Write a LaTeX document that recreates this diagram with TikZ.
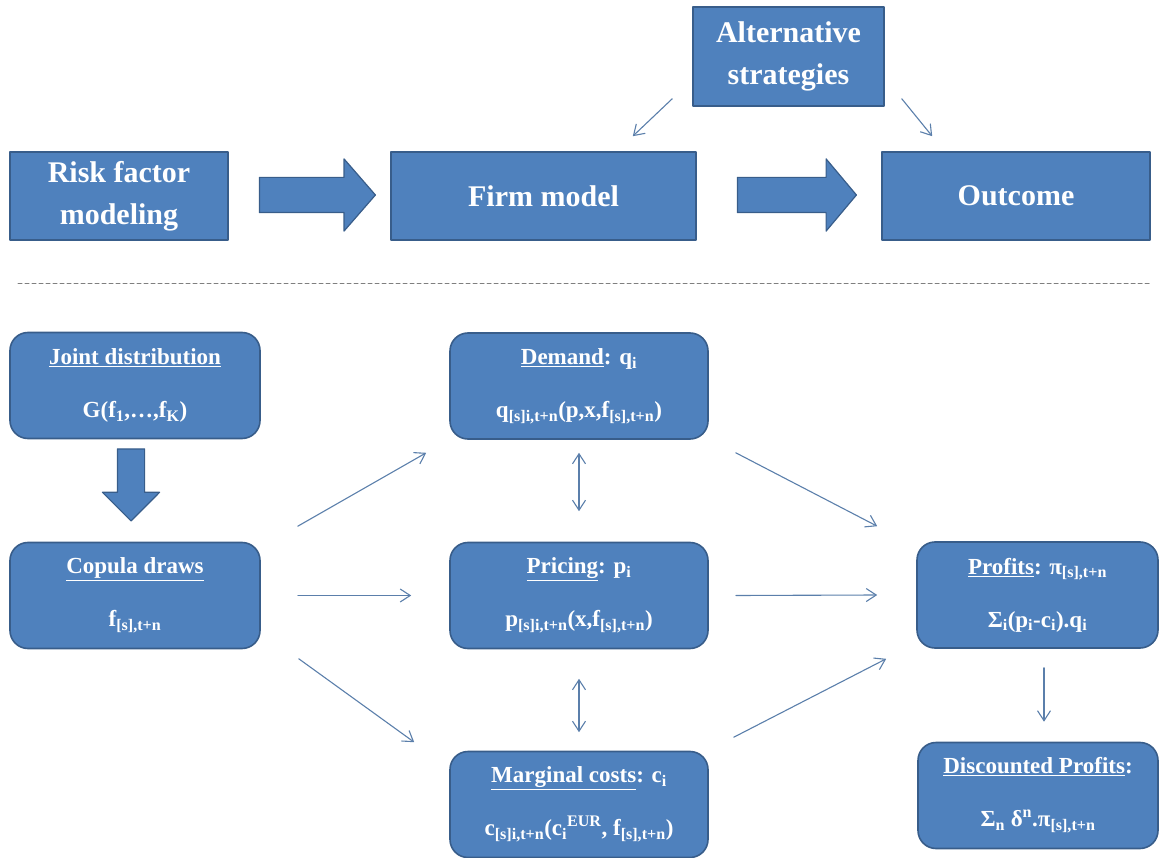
\documentclass[tikz,border=0pt]{standalone}
\usepackage{fontspec}
\setmainfont{Liberation Serif}
\usepackage{tikz}
\usetikzlibrary{arrows.meta,shapes.arrows}
\definecolor{boxblue}{HTML}{4F81BD}
\definecolor{boxedge}{HTML}{385D8A}
\definecolor{linkblue}{HTML}{5B7FAB}
\definecolor{sepgray}{HTML}{7F7F7F}
\tikzset{
  every picture/.style={
    line join=round,
    line cap=round,
  },
  topbox/.style={draw=boxedge, fill=boxblue, line width=1.6pt, text=white,
    align=center, inner sep=0pt, minimum height=88pt,
    font=\bfseries\fontsize{30}{42}\selectfont},
  % the lower boxes: same colours, round corners, two lines far apart
  flowbox/.style={topbox, rounded corners=18pt, minimum height=106pt,
    font=\bfseries\fontsize{23}{53}\selectfont},
  % the node is empty, so the shaft width comes from the inner sep
  fatarrow/.style={single arrow, draw=boxedge, fill=boxblue, line width=1.2pt,
    anchor=tail},
  link/.style={draw=linkblue, line width=1.1pt,
    -{Straight Barb[length=10pt,width=13pt]}},
  twoway/.style={link,
    {Straight Barb[length=10pt,width=13pt]}-{Straight Barb[length=10pt,width=13pt]}},
}
\newcommand{\lo}[1]{\textsubscript{#1}}
\newcommand{\hi}[1]{\textsuperscript{#1}}

\begin{document}
\begin{tikzpicture}[x=1pt,y=-1pt]
\useasboundingbox (0,0) rectangle (1162,858);

% upper part
\node[topbox, minimum width=218pt] (risk) at (119,196) {Risk factor\\modeling};
\node[topbox, minimum width=305pt] (firm) at (543.5,196) {Firm model};
\node[topbox, minimum width=268pt] (outcome) at (1016,196) {Outcome};
\node[topbox, minimum width=191pt, minimum height=99pt] (alt) at (788.5,56.5) {Alternative\\strategies};

\node[fatarrow, minimum height=116pt, inner sep=17pt, single arrow head extend=18.5pt,
  single arrow tip angle=98] (fat1) at ([xshift=30pt,yshift=1pt]risk.east) {};
\node[fatarrow, minimum height=119pt, inner sep=17pt, single arrow head extend=18.5pt,
  single arrow tip angle=100] (fat2) at ([xshift=40pt,yshift=1pt]firm.east) {};

\draw[link] ([xshift=-20pt,yshift=8pt]alt.south west) -- ([xshift=-64pt,yshift=15pt]firm.north east);
\draw[link] ([xshift=17pt,yshift=8pt]alt.south east) -- ([xshift=51pt,yshift=15pt]outcome.north west);

\draw[sepgray, line width=1pt, dash pattern=on 4pt off 3pt] (18,284) -- (1150,284);

% lower part
\node[flowbox, minimum width=250pt] (joint) at (135,385.5)
  {\underline{Joint distribution}\\G(f\lo{1},…,f\lo{K})};
\node[flowbox, minimum width=250pt] (copula) at (135,595.5)
  {\underline{Copula draws}\\f\lo{[s],t+n}};
\node[flowbox, minimum width=258pt] (demand) at (579,386)
  {\underline{Demand}: q\lo{i}\\q\lo{[s]i,t+n}(p,x,f\lo{[s],t+n})};
\node[flowbox, minimum width=258pt] (pricing) at (579,595.5)
  {\underline{Pricing}: p\lo{i}\\p\lo{[s]i,t+n}(x,f\lo{[s],t+n})};
\node[flowbox, minimum width=258pt] (marginal) at (579,804.5)
  {\underline{Marginal costs}: c\lo{i}\\c\lo{[s]i,t+n}(c\lo{i}\hi{EUR}, f\lo{[s],t+n})};
\node[flowbox, minimum width=241pt] (profits) at (1037.5,595)
  {\underline{Profits}: π\lo{[s],t+n}\\Σ\lo{i}(p\lo{i}-c\lo{i}).q\lo{i}};
\node[flowbox, minimum width=240pt] (disc) at (1038,795.5)
  {\underline{Discounted Profits}:\\Σ\lo{n} δ\hi{n}.π\lo{[s],t+n}};

\node[fatarrow, minimum height=72pt, inner sep=13pt, single arrow head extend=15pt,
  single arrow tip angle=90, shape border rotate=270] (fat3) at ([xshift=-4pt,yshift=-9pt]joint.south) {};

\draw[link] ([xshift=37pt,yshift=15.5pt]copula.north east) -- ([xshift=-23pt,yshift=-13pt]demand.south west);
\draw[link] ([xshift=37pt]copula.east) -- ([xshift=-38pt]pricing.west);
\draw[link] ([xshift=38pt,yshift=-9.5pt]copula.south east) -- ([xshift=-35pt,yshift=8.5pt]marginal.north west);
\draw[twoway] ([yshift=-13pt]demand.south) -- ([yshift=30.5pt]pricing.north);
\draw[twoway] ([yshift=-29.5pt]pricing.south) -- ([yshift=18.5pt]marginal.north);
\draw[link] ([xshift=27pt,yshift=-13pt]demand.south east) -- ([xshift=-39pt,yshift=15pt]profits.north west);
\draw[link] ([xshift=27pt]pricing.east) -- ([xshift=-39pt]profits.west);
\draw[link] ([xshift=25pt,yshift=13.5pt]marginal.north east) -- ([xshift=-30pt,yshift=-10pt]profits.south west);
\draw[link] ([xshift=6.5pt,yshift=-19pt]profits.south) -- ([xshift=6pt,yshift=20pt]disc.north);
\end{tikzpicture}
\end{document}
